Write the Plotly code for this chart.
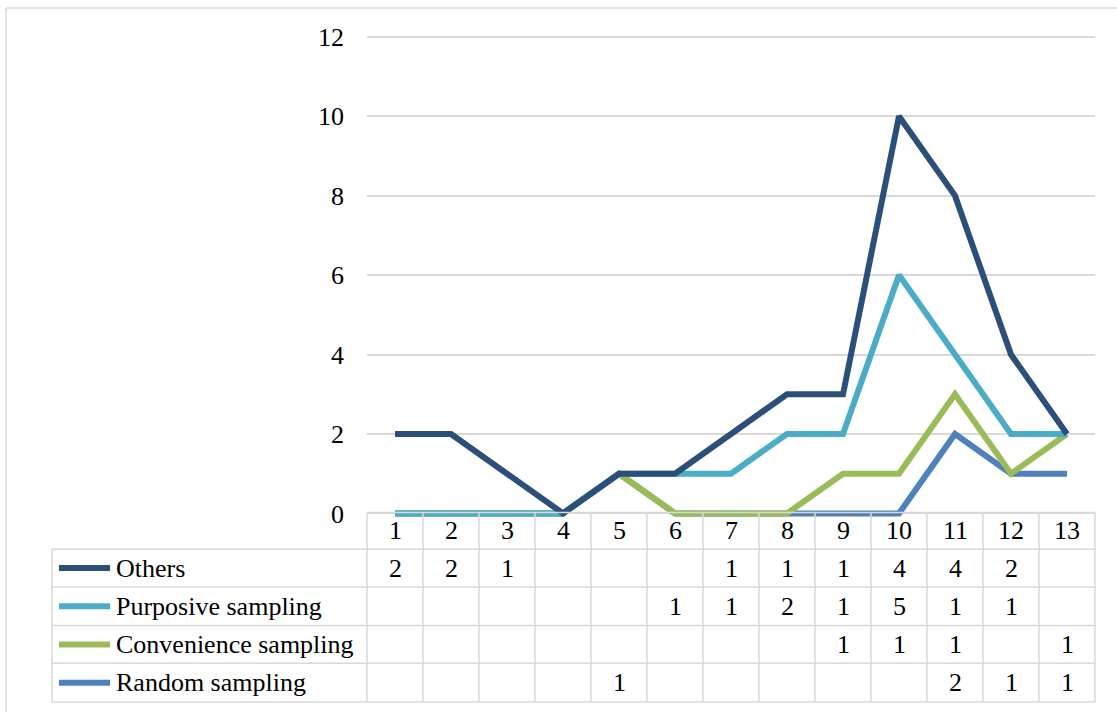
import plotly.graph_objects as go

W, H = 1117, 715

categories = list(range(1, 13 + 1))
series_names = ["Others", "Purposive sampling", "Convenience sampling", "Random sampling"]
others = [2, 2, 1, None, None, None, 1, 1, 1, 4, 4, 2, None]
purposive = [None, None, None, None, None, 1, 1, 2, 1, 5, 1, 1, None]
convenience = [None, None, None, None, None, None, None, None, 1, 1, 1, None, 1]
random_s = [None, None, None, None, 1, None, None, None, None, None, 2, 1, 1]
y_ticks = [0, 2, 4, 6, 8, 10, 12]

colors = {
    "Others": "#2c4f79",
    "Purposive sampling": "#4bacc6",
    "Convenience sampling": "#9bbb59",
    "Random sampling": "#4f81bd",
}
series_vals = {
    "Others": others,
    "Purposive sampling": purposive,
    "Convenience sampling": convenience,
    "Random sampling": random_s,
}

FONT = "Liberation Serif, Times New Roman, serif"
FS = 26
GRID = "#d9d9d9"
LW = 6


def px(x):
    return x / W


def py(y):
    return 1 - y / H


fig = go.Figure()
# stacked lines: bottom series first
for name in ["Random sampling", "Convenience sampling", "Purposive sampling", "Others"]:
    vals = [v if v is not None else 0 for v in series_vals[name]]
    fig.add_trace(go.Scatter(
        x=categories, y=vals, name=name, mode="lines",
        stackgroup="one", fill="none",
        line=dict(color=colors[name], width=LW),
        showlegend=False, hoverinfo="skip",
    ))

# plot area geometry
x_left, x_right = 367, 1095
y0_px, y12_px = 515, 35
ppu = (y0_px - y12_px) / 12.0
pad = 0.3
bottom_px = y0_px + pad * ppu
top_px = y12_px - pad * ppu

shapes = []
# outer chart border (left + top)
shapes.append(dict(type="line", xref="paper", yref="paper", x0=px(6), x1=px(1117), y0=py(6), y1=py(6),
                   line=dict(color=GRID, width=1.5)))
shapes.append(dict(type="line", xref="paper", yref="paper", x0=px(6), x1=px(6), y0=py(6), y1=py(715),
                   line=dict(color=GRID, width=1.5)))

# table grid
row_edges = [514, 551, 589, 628, 666, 705]
col_w = (x_right - x_left) / len(categories)
tab_left = 52
shapes.append(dict(type="line", xref="paper", yref="paper", x0=px(x_left), x1=px(x_right),
                   y0=py(row_edges[0]), y1=py(row_edges[0]), line=dict(color=GRID, width=1.5)))
for ry in row_edges[1:]:
    shapes.append(dict(type="line", xref="paper", yref="paper", x0=px(tab_left), x1=px(x_right),
                       y0=py(ry), y1=py(ry), line=dict(color=GRID, width=1.5)))
shapes.append(dict(type="line", xref="paper", yref="paper", x0=px(tab_left), x1=px(tab_left),
                   y0=py(row_edges[1]), y1=py(row_edges[-1]), line=dict(color=GRID, width=1.5)))
for i in range(len(categories) + 1):
    cx = x_left + i * col_w
    shapes.append(dict(type="line", xref="paper", yref="paper", x0=px(cx), x1=px(cx),
                       y0=py(row_edges[0]), y1=py(row_edges[-1]), line=dict(color=GRID, width=1.5)))

annotations = []
# header row
hy = (row_edges[0] + row_edges[1]) / 2
for c in categories:
    annotations.append(dict(x=c, xref="x", y=py(hy), yref="paper", text=str(c), showarrow=False,
                            font=dict(family=FONT, size=FS, color="black"), xanchor="center", yanchor="middle"))
# series rows
for r, name in enumerate(series_names):
    cy = (row_edges[r + 1] + row_edges[r + 2]) / 2
    shapes.append(dict(type="line", xref="paper", yref="paper", x0=px(59), x1=px(110), y0=py(cy), y1=py(cy),
                       line=dict(color=colors[name], width=LW)))
    annotations.append(dict(x=px(114), xref="paper", y=py(cy), yref="paper", text=name, showarrow=False,
                            font=dict(family=FONT, size=FS, color="black"), xanchor="left", yanchor="middle"))
    for c, v in zip(categories, series_vals[name]):
        if v is None:
            continue
        annotations.append(dict(x=c, xref="x", y=py(cy), yref="paper", text=str(v), showarrow=False,
                                font=dict(family=FONT, size=FS, color="black"), xanchor="center", yanchor="middle"))

fig.update_layout(
    width=W, height=H,
    margin=dict(l=0, r=0, t=0, b=0),
    paper_bgcolor="white", plot_bgcolor="white",
    xaxis=dict(domain=[px(x_left), px(x_right)], range=[0.5, 13.5], showgrid=False, zeroline=False,
               showticklabels=False, showline=False, ticks=""),
    yaxis=dict(domain=[py(bottom_px), py(top_px)], range=[-pad, 12 + pad], tickvals=y_ticks,
               showgrid=True, gridcolor=GRID, gridwidth=1.5, zeroline=False, showline=False,
               ticks="", ticklabelstandoff=22,
               tickfont=dict(family=FONT, size=FS, color="black")),
    shapes=shapes,
    annotations=annotations,
    showlegend=False,
)

fig.write_html("out.html")
